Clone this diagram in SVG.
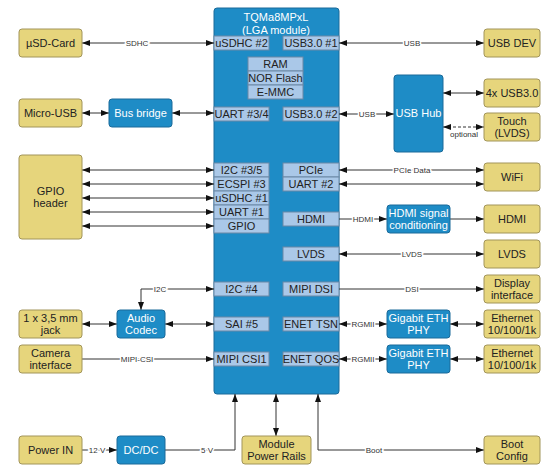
<svg xmlns="http://www.w3.org/2000/svg" width="560" height="471" viewBox="0 0 560 471">
<style>
text{font-family:"Liberation Sans",Arial,sans-serif;font-size:11px;text-anchor:middle}
.y{fill:#e6d57c;stroke:#a2955a;stroke-width:1}
.b{fill:#1e8cc6;stroke:#1a6a9a;stroke-width:1}
.p{fill:#aac8e8;stroke:#6b88a6;stroke-width:1}
.tw{fill:#ffffff}
.tk{fill:#222222}
.c{stroke:#333333;stroke-width:1;fill:none}
.d{stroke-dasharray:3,2}
.l{font-size:8px;fill:#333333;stroke:#ffffff;stroke-width:3px;paint-order:stroke}
</style>
<defs>
<marker id="a" viewBox="0 0 8 6" refX="8" refY="3" markerWidth="8" markerHeight="6" markerUnits="userSpaceOnUse" orient="auto-start-reverse">
<path d="M0,0 L8,3 L0,6 z" fill="#111111"/>
</marker>
</defs>
<rect width="560" height="471" fill="#ffffff"/>

<g id="module">
<rect x="214" y="8" width="125" height="386" rx="3" class="b"/>
<text x="276" y="21" class="tw">TQMa8MPxL</text>
<text x="276" y="34" class="tw">(LGA module)</text>
<rect x="214" y="36" width="55" height="14" class="p"/><text x="241.5" y="47" class="tk">uSDHC #2</text>
<rect x="283" y="36" width="56" height="14" class="p"/><text x="311" y="47" class="tk">USB3.0 #1</text>
<rect x="248" y="57" width="55" height="14" class="p"/><text x="275.5" y="68" class="tk">RAM</text>
<rect x="248" y="71" width="55" height="14" class="p"/><text x="275.5" y="82" class="tk">NOR Flash</text>
<rect x="248" y="85" width="55" height="14" class="p"/><text x="275.5" y="96" class="tk">E-MMC</text>
<rect x="214" y="107" width="55" height="14" class="p"/><text x="241.5" y="118" class="tk">UART #3/4</text>
<rect x="283" y="107" width="56" height="14" class="p"/><text x="311" y="118" class="tk">USB3.0 #2</text>
<rect x="214" y="163" width="55" height="14" class="p"/><text x="241.5" y="174" class="tk">I2C #3/5</text>
<rect x="214" y="177" width="55" height="14" class="p"/><text x="241.5" y="188" class="tk">ECSPI #3</text>
<rect x="214" y="191" width="55" height="14" class="p"/><text x="241.5" y="202" class="tk">uSDHC #1</text>
<rect x="214" y="205" width="55" height="14" class="p"/><text x="241.5" y="216" class="tk">UART #1</text>
<rect x="214" y="219" width="55" height="14" class="p"/><text x="241.5" y="230" class="tk">GPIO</text>
<rect x="283" y="163" width="56" height="14" class="p"/><text x="311" y="174" class="tk">PCIe</text>
<rect x="283" y="177" width="56" height="14" class="p"/><text x="311" y="188" class="tk">UART #2</text>
<rect x="283" y="212" width="56" height="14" class="p"/><text x="311" y="223" class="tk">HDMI</text>
<rect x="283" y="247" width="56" height="14" class="p"/><text x="311" y="258" class="tk">LVDS</text>
<rect x="214" y="282" width="55" height="14" class="p"/><text x="241.5" y="293" class="tk">I2C #4</text>
<rect x="283" y="282" width="56" height="14" class="p"/><text x="311" y="293" class="tk">MIPI DSI</text>
<rect x="214" y="317" width="55" height="14" class="p"/><text x="241.5" y="328" class="tk">SAI #5</text>
<rect x="283" y="317" width="56" height="14" class="p"/><text x="311" y="328" class="tk">ENET TSN</text>
<rect x="214" y="352" width="55" height="14" class="p"/><text x="241.5" y="363" class="tk">MIPI CSI1</text>
<rect x="283" y="352" width="56" height="14" class="p"/><text x="311" y="363" class="tk">ENET QOS</text>
</g>

<g id="connectors">
<path class="c" d="M82,43 H214" marker-start="url(#a)" marker-end="url(#a)"/>
<path class="c" d="M339,43 H484" marker-start="url(#a)" marker-end="url(#a)"/>
<path class="c" d="M82,113 H109" marker-start="url(#a)" marker-end="url(#a)"/>
<path class="c" d="M172,113 H214" marker-start="url(#a)" marker-end="url(#a)"/>
<path class="c" d="M339,114 H394" marker-start="url(#a)" marker-end="url(#a)"/>
<path class="c" d="M443,93 H484" marker-start="url(#a)" marker-end="url(#a)"/>
<path class="c d" d="M443,127 H484" marker-start="url(#a)" marker-end="url(#a)"/>
<path class="c" d="M82,170 H214" marker-start="url(#a)" marker-end="url(#a)"/>
<path class="c" d="M82,184 H214" marker-start="url(#a)" marker-end="url(#a)"/>
<path class="c" d="M82,198 H214" marker-start="url(#a)" marker-end="url(#a)"/>
<path class="c" d="M82,212 H214" marker-start="url(#a)" marker-end="url(#a)"/>
<path class="c" d="M82,226 H214" marker-start="url(#a)" marker-end="url(#a)"/>
<path class="c" d="M339,170 H484" marker-start="url(#a)" marker-end="url(#a)"/>
<path class="c" d="M339,184 H484" marker-start="url(#a)" marker-end="url(#a)"/>
<path class="c" d="M339,219 H387" marker-end="url(#a)"/>
<path class="c" d="M450,219 H484" marker-end="url(#a)"/>
<path class="c" d="M339,254 H484" marker-start="url(#a)" marker-end="url(#a)"/>
<path class="c" d="M339,289 H484" marker-end="url(#a)"/>
<path class="c" d="M339,324 H387" marker-start="url(#a)" marker-end="url(#a)"/>
<path class="c" d="M450,324 H484" marker-start="url(#a)" marker-end="url(#a)"/>
<path class="c" d="M339,359 H387" marker-start="url(#a)" marker-end="url(#a)"/>
<path class="c" d="M450,359 H484" marker-start="url(#a)" marker-end="url(#a)"/>
<path class="c" d="M214,289 H141 V310" marker-start="url(#a)" marker-end="url(#a)"/>
<path class="c" d="M82,324 H117" marker-start="url(#a)" marker-end="url(#a)"/>
<path class="c" d="M165,324 H214" marker-start="url(#a)" marker-end="url(#a)"/>
<path class="c" d="M82,359 H214" marker-end="url(#a)"/>
<path class="c" d="M82,450 H117" marker-end="url(#a)"/>
<path class="c" d="M165,450 H235 V394" marker-end="url(#a)"/>
<path class="c" d="M276,394 V436" marker-start="url(#a)" marker-end="url(#a)"/>
<path class="c" d="M318,394 V450 H484" marker-start="url(#a)" marker-end="url(#a)"/>
<text x="137" y="46" class="l">SDHC</text>
<text x="412" y="46" class="l">USB</text>
<text x="367" y="117" class="l">USB</text>
<text x="464" y="137" class="l">optional</text>
<text x="412" y="173" class="l">PCIe Data</text>
<text x="363" y="222" class="l">HDMI</text>
<text x="412" y="257" class="l">LVDS</text>
<text x="412" y="292" class="l">DSI</text>
<text x="363" y="327" class="l">RGMII</text>
<text x="363" y="362" class="l">RGMII</text>
<text x="160" y="292" class="l">I2C</text>
<text x="137" y="362" class="l">MIPI-CSI</text>
<text x="97" y="453" class="l">12 V</text>
<text x="207" y="453" class="l">5 V</text>
<text x="374" y="453" class="l">Boot</text>
</g>

<g id="usd-card"><rect x="19" y="29" width="63" height="28" rx="3" class="y"/><text x="50.5" y="47" class="tk">µSD-Card</text></g>
<g id="micro-usb"><rect x="19" y="99" width="63" height="28" rx="3" class="y"/><text x="50.5" y="117" class="tk">Micro-USB</text></g>
<g id="bus-bridge"><rect x="109" y="99" width="63" height="28" rx="3" class="b"/><text x="140.5" y="117" class="tw">Bus bridge</text></g>
<g id="gpio-header"><rect x="19" y="155" width="63" height="84" rx="3" class="y"/><text x="50.5" y="195" class="tk">GPIO</text><text x="50.5" y="207" class="tk">header</text></g>
<g id="jack"><rect x="19" y="310" width="63" height="28" rx="3" class="y"/><text x="50.5" y="322" class="tk">1 x 3,5 mm</text><text x="50.5" y="334" class="tk">jack</text></g>
<g id="audio-codec"><rect x="117" y="310" width="48" height="28" rx="3" class="b"/><text x="141" y="322" class="tw">Audio</text><text x="141" y="334" class="tw">Codec</text></g>
<g id="camera"><rect x="19" y="345" width="63" height="28" rx="3" class="y"/><text x="50.5" y="357" class="tk">Camera</text><text x="50.5" y="369" class="tk">interface</text></g>
<g id="power-in"><rect x="19" y="436" width="63" height="28" rx="3" class="y"/><text x="50.5" y="454" class="tk">Power IN</text></g>
<g id="dcdc"><rect x="117" y="436" width="48" height="28" rx="3" class="b"/><text x="141" y="454" class="tw">DC/DC</text></g>
<g id="power-rails"><rect x="242" y="436" width="69" height="28" rx="3" class="y"/><text x="276.5" y="448" class="tk">Module</text><text x="276.5" y="460" class="tk">Power Rails</text></g>
<g id="usb-dev"><rect x="484" y="29" width="56" height="28" rx="3" class="y"/><text x="512" y="47" class="tk">USB DEV</text></g>
<g id="usb-hub"><rect x="394" y="75" width="49" height="77" rx="3" class="b"/><text x="418.5" y="117" class="tw">USB Hub</text></g>
<g id="usb30x4"><rect x="484" y="79" width="56" height="28" rx="3" class="y"/><text x="512" y="97" class="tk">4x USB3.0</text></g>
<g id="touch"><rect x="484" y="113" width="56" height="28" rx="3" class="y"/><text x="512" y="125" class="tk">Touch</text><text x="512" y="137" class="tk">(LVDS)</text></g>
<g id="wifi"><rect x="484" y="163" width="56" height="28" rx="3" class="y"/><text x="512" y="181" class="tk">WiFi</text></g>
<g id="hdmi-cond"><rect x="387" y="205" width="63" height="28" rx="3" class="b"/><text x="418.5" y="217" class="tw">HDMI signal</text><text x="418.5" y="229" class="tw">conditioning</text></g>
<g id="hdmi"><rect x="484" y="205" width="56" height="28" rx="3" class="y"/><text x="512" y="223" class="tk">HDMI</text></g>
<g id="lvds"><rect x="484" y="240" width="56" height="28" rx="3" class="y"/><text x="512" y="258" class="tk">LVDS</text></g>
<g id="display"><rect x="484" y="275" width="56" height="28" rx="3" class="y"/><text x="512" y="287" class="tk">Display</text><text x="512" y="299" class="tk">interface</text></g>
<g id="phy1"><rect x="387" y="310" width="63" height="28" rx="3" class="b"/><text x="418.5" y="322" class="tw">Gigabit ETH</text><text x="418.5" y="334" class="tw">PHY</text></g>
<g id="eth1"><rect x="484" y="310" width="56" height="28" rx="3" class="y"/><text x="512" y="322" class="tk">Ethernet</text><text x="512" y="334" class="tk">10/100/1k</text></g>
<g id="phy2"><rect x="387" y="345" width="63" height="28" rx="3" class="b"/><text x="418.5" y="357" class="tw">Gigabit ETH</text><text x="418.5" y="369" class="tw">PHY</text></g>
<g id="eth2"><rect x="484" y="345" width="56" height="28" rx="3" class="y"/><text x="512" y="357" class="tk">Ethernet</text><text x="512" y="369" class="tk">10/100/1k</text></g>
<g id="boot-config"><rect x="484" y="436" width="56" height="28" rx="3" class="y"/><text x="512" y="448" class="tk">Boot</text><text x="512" y="460" class="tk">Config</text></g>
</svg>
